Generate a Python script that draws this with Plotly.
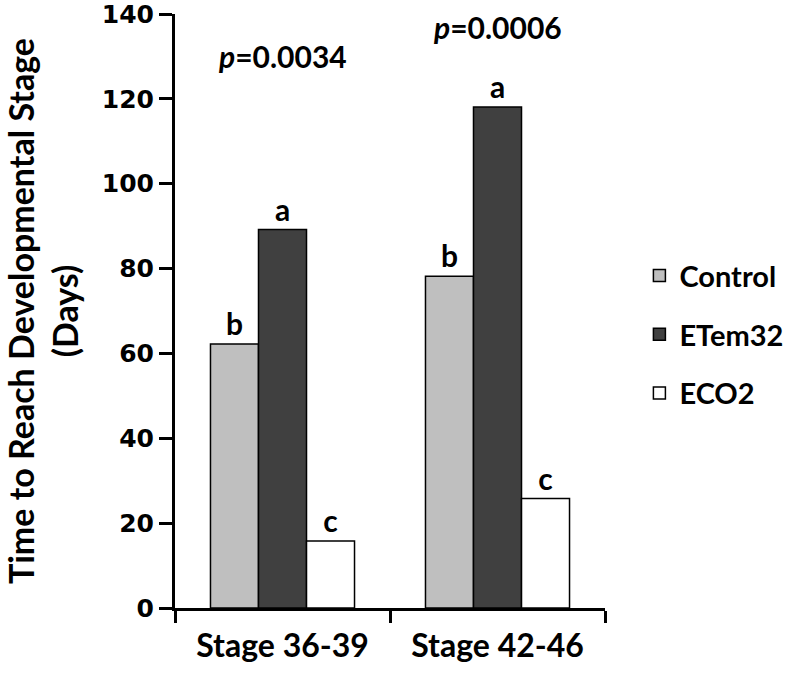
import plotly.graph_objects as go

categories = ["Stage 36-39", "Stage 42-46"]
series_names = ["Control", "ETem32", "ECO2"]
control = [62.2, 78.2]
etem32 = [89.2, 118.1]
eco2 = [15.8, 25.8]
letters_control = ["b", "b"]
letters_etem32 = ["a", "a"]
letters_eco2 = ["c", "c"]
p_values = ["0.0034", "0.0006"]
p_label_y = [130, 137]
y_ticks = [0, 20, 40, 60, 80, 100, 120, 140]

colors = ["#BFBFBF", "#404040", "#FFFFFF"]
TXT = "Lato"
fig = go.Figure()
for i, (name, vals, letters) in enumerate(zip(series_names, [control, etem32, eco2],
                                              [letters_control, letters_etem32, letters_eco2])):
    fig.add_trace(go.Bar(
        x=categories, y=vals, name=name, legendgroup=name,
        marker=dict(color=colors[i], line=dict(color="black", width=1.5)),
        text=letters, textposition="outside",
        textfont=dict(family=TXT, size=30, color="black", weight="bold"),
        cliponaxis=False,
    ))

for cat, p, py in zip(categories, p_values, p_label_y):
    fig.add_annotation(x=cat, y=py, xref="x", yref="y", showarrow=False,
                       text=f"<i>p</i>=<b>{p}</b>",
                       font=dict(family=TXT, size=30, color="black", weight="bold"),
                       yanchor="middle")

fig.update_layout(
    width=787, height=673,
    margin=dict(l=175, r=182, t=14, b=65, autoexpand=False),
    paper_bgcolor="white", plot_bgcolor="white",
    barmode="group", bargap=0.33, bargroupgap=0,
    showlegend=True,
    legend=dict(x=1.08, y=0.46, xanchor="left", yanchor="middle",
                traceorder="grouped", tracegroupgap=18,
                font=dict(family=TXT, size=29, color="black", weight="bold")),
    xaxis=dict(showline=True, linecolor="black", linewidth=3, ticks="outside",
               tickson="boundaries", ticklen=12, tickwidth=3, tickcolor="black",
               range=[-0.5, 1.5], automargin=False,
               tickfont=dict(family=TXT, size=32, color="black", weight="bold"),
               ticklabelstandoff=8, showgrid=False, zeroline=False),
    yaxis=dict(range=[0, 140], tickvals=y_ticks, showline=True, linecolor="black",
               linewidth=3, ticks="outside", ticklen=13, tickwidth=3, tickcolor="black",
               automargin=False, ticklabeloverflow="allow",
               tickfont=dict(family="DejaVu Sans", size=25, color="black", weight="bold"),
               showgrid=False, zeroline=False,
               title=dict(text="Time to Reach Developmental Stage<br>(Days)",
                          font=dict(family=TXT, size=34, color="black", weight="bold"),
                          standoff=62)),
)
fig.write_html("out.html", config={"displayModeBar": False},
               post_script="document.body.style.margin='0';document.body.style.overflow='hidden';")
